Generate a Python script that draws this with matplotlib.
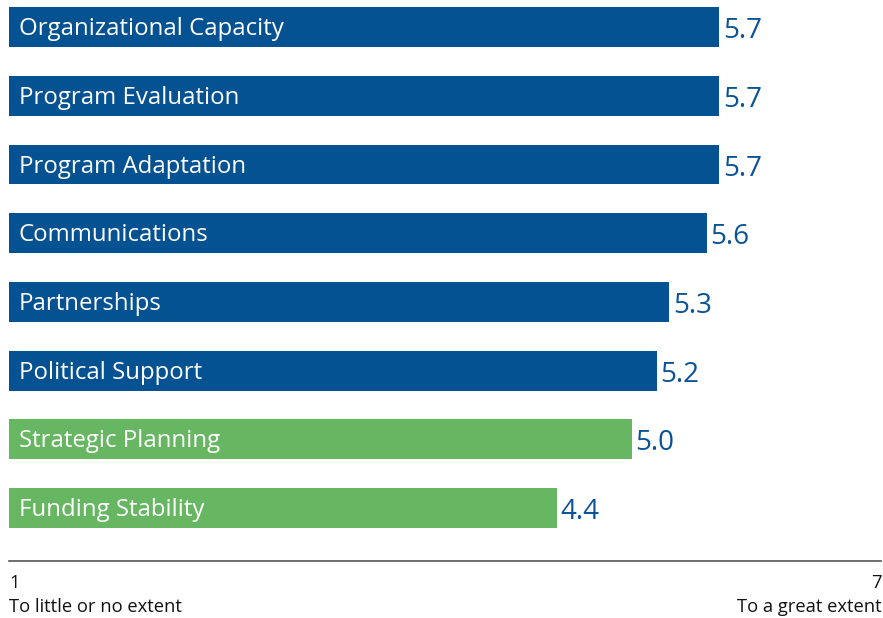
import matplotlib
matplotlib.use("Agg")
import matplotlib.pyplot as plt

categories = ["Organizational Capacity", "Program Evaluation", "Program Adaptation",
              "Communications", "Partnerships", "Political Support",
              "Strategic Planning", "Funding Stability"]
values = [5.7, 5.7, 5.7, 5.6, 5.3, 5.2, 5.0, 4.4]
groups = ["blue", "blue", "blue", "blue", "blue", "blue", "green", "green"]
scale_min_label = "1"
scale_max_label = "7"
left_caption = "To little or no extent"
right_caption = "To a great extent"

color_map = {"blue": "#045292", "green": "#66b662"}
value_color = "#0a5396"

plt.rcParams['font.family'] = ['Open Sans', 'DejaVu Sans']

fig = plt.figure(figsize=(8.83, 6.18), dpi=100)
W, H = 883, 618
ax = fig.add_axes([9 / W, (H - 561) / H, 872 / W, 561 / H])

ypos = list(range(len(categories)))
ax.barh(ypos, values, height=0.58, color=[color_map[g] for g in groups], left=0)

for y, cat, v in zip(ypos, categories, values):
    ax.text(0.08, y + 0.03, cat, color="white", fontsize=17.3, va="center", ha="left")
    ax.text(v + 0.03, y + 0.06, f"{v:.1f}", color=value_color, fontsize=20,
            va="center", ha="left")

ax.set_xlim(0, 7)
ax.set_ylim(7.77, -0.393)
for s in ["top", "right", "left"]:
    ax.spines[s].set_visible(False)
ax.spines["bottom"].set_color("#555555")
ax.spines["bottom"].set_linewidth(1.2)
ax.set_xticks([])
ax.set_yticks([])

fig.text(9 / W, 1 - 583 / H, scale_min_label, fontsize=13.2, ha="left", va="center", color="#111111")
fig.text(9 / W, 1 - 607 / H, left_caption, fontsize=13.2, ha="left", va="center", color="#111111")
fig.text(882 / W, 1 - 583 / H, scale_max_label, fontsize=13.2, ha="right", va="center", color="#111111")
fig.text(882 / W, 1 - 607 / H, right_caption, fontsize=13.2, ha="right", va="center", color="#111111")

fig.savefig("out.png", dpi=100)
